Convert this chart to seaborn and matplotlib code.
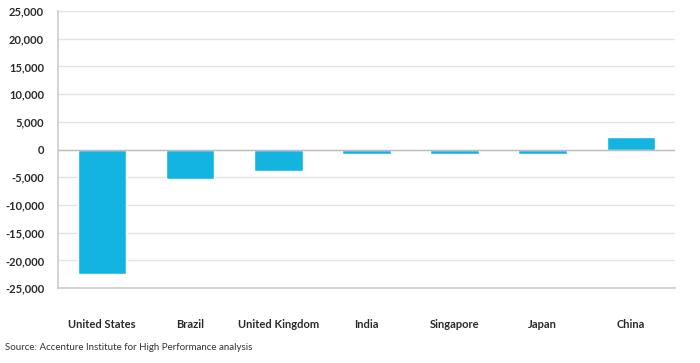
import matplotlib
matplotlib.use("Agg")
import matplotlib.pyplot as plt
import seaborn as sns
import pandas as pd

countries = ["United States", "Brazil", "United Kingdom", "India", "Singapore", "Japan", "China"]
values = [-22400, -5300, -3800, -850, -850, -780, 2300]
y_ticks = [-25000, -20000, -15000, -10000, -5000, 0, 5000, 10000, 15000, 20000, 25000]

df = pd.DataFrame({"country": countries, "value": values})

sns.set_style("white")
plt.rcParams["font.family"] = ["Lato", "DejaVu Sans"]

fig = plt.figure(figsize=(7, 3.63), dpi=100)
ax = fig.add_axes([0.083, 0.206, 0.881, 0.764])

sns.barplot(data=df, x="country", y="value", color="#14b4e0", saturation=1,
            width=0.55, ax=ax, zorder=3)

ax.set_ylim(-25000, 25000)
ax.set_yticks(y_ticks)
ax.set_yticklabels([f"{v:,}" for v in y_ticks], fontsize=8, color="#2a2a2a",
                   fontweight="bold")
ax.set_xlim(-0.5, len(countries) - 0.5)
for lbl in ax.get_xticklabels():
    lbl.set_fontweight("bold")
ax.yaxis.grid(True, color="#e4e4e4", linewidth=1, zorder=0)
ax.axhline(0, color="#bdbdbd", linewidth=1, zorder=4)
ax.tick_params(axis="x", length=0, pad=22, labelsize=8, labelcolor="#2a2a2a")
ax.tick_params(axis="y", length=0, pad=10)
ax.set_xlabel("")
ax.set_ylabel("")

for side in ["top", "right"]:
    ax.spines[side].set_visible(False)
for side in ["left", "bottom"]:
    ax.spines[side].set_color("#cccccc")
    ax.spines[side].set_linewidth(1.2)

fig.text(0.007, 0.035, "Source: Accenture Institute for High Performance analysis",
         fontsize=7, color="#333333")

fig.savefig("out.png", dpi=100)
